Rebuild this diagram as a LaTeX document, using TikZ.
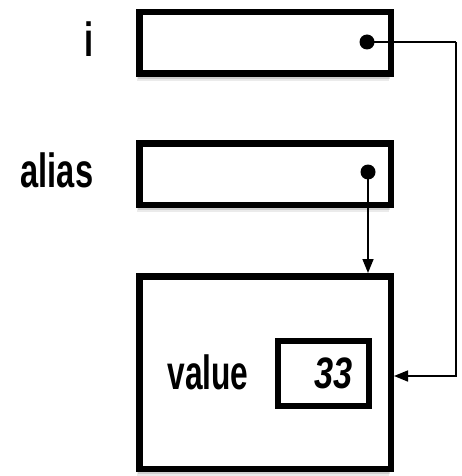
\documentclass[tikz,border=0pt]{standalone}
\usepackage{fontspec}
\setmainfont{Liberation Sans}
\usetikzlibrary{arrows.meta,shadows}
\begin{document}
\begin{tikzpicture}[x=1pt,y=-1pt,
  cell/.style={draw=black,line width=6.5pt,fill=white,inner sep=0pt,
    drop shadow={shadow xshift=-2pt,shadow yshift=-7pt,opacity=.08,fill=black},
    drop shadow={shadow xshift=-1pt,shadow yshift=-5pt,opacity=.12,fill=black},
    drop shadow={shadow xshift=-1pt,shadow yshift=-3pt,opacity=.18,fill=black}},
  inner/.style={draw=black,line width=5.5pt,fill=white,inner sep=0pt},
  lbl/.style={font=\fontsize{48}{50}\selectfont\bfseries,inner sep=0pt},
  dotc/.style={circle,fill=black,inner sep=0pt,minimum size=15pt},
  link/.style={line width=1.6pt,draw=black},
  tip/.style={-{Triangle[length=14pt,width=11pt]}}
]
\useasboundingbox (0,0) rectangle (461,476);
\node[cell,minimum width=251.5pt,minimum height=61.5pt] (ibox) at (265,43) {};
\node[cell,minimum width=251.5pt,minimum height=61.5pt] (abox) at (265,174) {};
\node[cell,minimum width=251.5pt,minimum height=192.5pt] (big) at (265,372.5) {};
\node[inner,minimum width=91pt,minimum height=65pt] (vbox) at (323.5,373.5) {};
\node[lbl] (il) at (89,39) {\scalebox{0.68}[1]{i}};
\node[lbl] (al) at (57,170) {\scalebox{0.68}[1]{alias}};
\node[lbl] (vl) at (208,372) {\scalebox{0.66}[1]{value}};
\node[lbl,font=\fontsize{44}{46}\selectfont\bfseries\itshape] (num) at (334,373) {\scalebox{0.78}[1]{33}};
\node[dotc] (idot) at (367,42) {};
\node[dotc] (adot) at (368,172) {};
\coordinate (corner) at (456,42);
\coordinate (bigin) at (394,376);
\draw[link] (idot.center) -- (corner);
\draw[link,tip] (corner) |- (bigin);
\draw[link,tip] (adot.center) -- (adot |- big.north);
\end{tikzpicture}
\end{document}
